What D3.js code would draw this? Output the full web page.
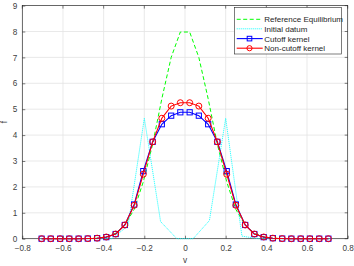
<!DOCTYPE html>
<html>
<head>
<meta charset="utf-8">
<script src="https://cdn.jsdelivr.net/npm/d3@7"></script>
<style>
  body { margin: 0; background: #fff; }
  svg { display: block; font-family: "Liberation Sans", Arial, sans-serif; }
</style>
</head>
<body>
<div id="chart"></div>
<script>
// velocity grid (cell centres)
var vGrid = [-0.705,-0.660,-0.614,-0.569,-0.523,-0.478,-0.432,-0.387,-0.341,-0.296,-0.250,-0.205,-0.159,-0.114,-0.068,-0.023,
              0.023, 0.068, 0.114, 0.159, 0.205, 0.250, 0.296, 0.341, 0.387, 0.432, 0.478, 0.523, 0.569, 0.614, 0.660, 0.705];

var fEquilibrium = [0,0,0,0,0,0.005,0.02,0.07,0.21,0.52,1.13,2.2,3.65,5.4,7.0,7.98,
                    7.98,7.0,5.4,3.65,2.2,1.13,0.52,0.21,0.07,0.02,0.005,0,0,0,0,0];
var fCutoff = [0,0,0,0,0,0.005,0.02,0.06,0.18,0.53,1.32,2.61,3.74,4.42,4.75,4.88,
               4.88,4.75,4.42,3.74,2.61,1.32,0.53,0.18,0.06,0.02,0.005,0,0,0,0,0];
var fNonCutoff = [0,0,0,0,0,0.005,0.02,0.066,0.18,0.53,1.29,2.49,3.74,4.65,5.12,5.25,
                  5.25,5.12,4.65,3.74,2.49,1.29,0.53,0.18,0.066,0.02,0.005,0,0,0,0,0];

// initial datum is on a coarser grid
var vInit = [-0.72,-0.64,-0.56,-0.48,-0.40,-0.36,-0.28,-0.20,-0.12,-0.04,0.04,0.12,0.20,0.28,0.36,0.40,0.48,0.56,0.64,0.72];
var fInit = [0,0,0,0,0,0,0.5,4.65,0.66,0,0,0.7,4.65,0.1,0,0,0,0,0,0];

var xTicks = [-0.8,-0.6,-0.4,-0.2,0,0.2,0.4,0.6,0.8];
var yTicks = [0,1,2,3,4,5,6,7,8,9];
var legendLabels = ["Reference Equilibrium","Initial datum","Cutoff kernel","Non-cutoff kernel"];

var width = 354, height = 266;
var padL = 22.3, padR = 347.7, padT = 5.6, padB = 238.7;

var svg = d3.select("#chart").append("svg")
    .attr("width", width)
    .attr("height", height);

var x = d3.scaleLinear().domain([-0.8, 0.8]).range([padL, padR]);
var y = d3.scaleLinear().domain([0, 9]).range([padB, padT]);

// grid lines
svg.append("g").selectAll("line")
    .data(xTicks.slice(1, -1))
    .enter().append("line")
    .attr("x1", d => x(d)).attr("x2", d => x(d))
    .attr("y1", padT).attr("y2", padB)
    .attr("stroke", "#e3e3e3").attr("stroke-width", 0.8);
svg.append("g").selectAll("line")
    .data(yTicks.slice(1, -1))
    .enter().append("line")
    .attr("y1", d => y(d)).attr("y2", d => y(d))
    .attr("x1", padL).attr("x2", padR)
    .attr("stroke", "#e3e3e3").attr("stroke-width", 0.8);

// axes (matlab style, ticks inside)
var xAxis = d3.axisBottom(x).tickValues(xTicks).tickSize(-3).tickPadding(6.5)
    .tickFormat(d => d === 0 ? "0" : d3.format(".1f")(d));
var yAxis = d3.axisLeft(y).tickValues(yTicks).tickSize(-3).tickPadding(5);

var gx = svg.append("g").attr("transform", "translate(0," + padB + ")").call(xAxis);
var gy = svg.append("g").attr("transform", "translate(" + padL + ",0)").call(yAxis);
[gx, gy].forEach(function(g) {
    g.select(".domain").remove();
    g.selectAll("line").attr("stroke", "#262626").attr("stroke-width", 0.6);
    g.selectAll("text").attr("fill", "#404040").style("font-size", "8.2px")
        .style("font-family", "'Liberation Sans', Arial, sans-serif");
});

// top/right ticks
svg.append("g").selectAll("line")
    .data(xTicks).enter().append("line")
    .attr("x1", d => x(d)).attr("x2", d => x(d))
    .attr("y1", padT).attr("y2", padT + 3)
    .attr("stroke", "#262626").attr("stroke-width", 0.6);
svg.append("g").selectAll("line")
    .data(yTicks).enter().append("line")
    .attr("y1", d => y(d)).attr("y2", d => y(d))
    .attr("x1", padR).attr("x2", padR - 3)
    .attr("stroke", "#262626").attr("stroke-width", 0.6);

// box
svg.append("rect")
    .attr("x", padL).attr("y", padT)
    .attr("width", padR - padL).attr("height", padB - padT)
    .attr("fill", "none").attr("stroke", "#262626").attr("stroke-width", 0.7);

// axis labels
svg.append("text").attr("x", x(0)).attr("y", 263)
    .attr("text-anchor", "middle").attr("fill", "#404040")
    .style("font-size", "8.3px").text("v");
svg.append("text")
    .attr("transform", "translate(7," + y(4.5) + ") rotate(-90)")
    .attr("text-anchor", "middle").attr("fill", "#404040")
    .style("font-size", "8.3px").text("f");

var line = d3.line().x(d => x(d[0])).y(d => y(d[1]));
var zip = (a, b) => a.map((d, i) => [d, b[i]]);

var plot = svg.append("g");

// reference equilibrium
plot.append("path").datum(zip(vGrid, fEquilibrium))
    .attr("d", line).attr("fill", "none")
    .attr("stroke", "#00ff00").attr("stroke-width", 1)
    .attr("stroke-dasharray", "4,2.5");

// initial datum
plot.append("path").datum(zip(vInit, fInit))
    .attr("d", line).attr("fill", "none")
    .attr("stroke", "#00ffff").attr("stroke-width", 0.8)
    .attr("stroke-dasharray", "1.2,0.8");

// cutoff kernel
var cutData = zip(vGrid, fCutoff);
plot.append("path").datum(cutData)
    .attr("d", line).attr("fill", "none")
    .attr("stroke", "#0000ff").attr("stroke-width", 1.1);
plot.append("g").selectAll("rect")
    .data(cutData).enter().append("rect")
    .attr("x", d => x(d[0]) - 2.6).attr("y", d => y(d[1]) - 2.6)
    .attr("width", 5.2).attr("height", 5.2)
    .attr("fill", "none").attr("stroke", "#0000ff").attr("stroke-width", 1);

// non-cutoff kernel
var nonData = zip(vGrid, fNonCutoff);
plot.append("path").datum(nonData)
    .attr("d", line).attr("fill", "none")
    .attr("stroke", "#ff0000").attr("stroke-width", 1.1);
plot.append("g").selectAll("circle")
    .data(nonData).enter().append("circle")
    .attr("cx", d => x(d[0])).attr("cy", d => y(d[1]))
    .attr("r", 3)
    .attr("fill", "none").attr("stroke", "#ff0000").attr("stroke-width", 1);

// legend
var lg = svg.append("g");
lg.append("rect")
    .attr("x", 234.3).attr("y", 7.3).attr("width", 107).attr("height", 46.7)
    .attr("fill", "#fff").attr("stroke", "#262626").attr("stroke-width", 0.6);
var legendY = [19.3, 28.8, 38.6, 48.2];
var styles = [
    {c: "#00ff00", dash: "4,2.5", w: 1, m: null},
    {c: "#00ffff", dash: "1.2,0.8", w: 0.8, m: null},
    {c: "#0000ff", dash: null, w: 1.1, m: "square"},
    {c: "#ff0000", dash: null, w: 1.1, m: "circle"}
];
legendLabels.forEach(function(lab, i) {
    var s = styles[i], ly = legendY[i];
    lg.append("line")
        .attr("x1", 236.7).attr("x2", 262.7).attr("y1", ly).attr("y2", ly)
        .attr("stroke", s.c).attr("stroke-width", s.w)
        .attr("stroke-dasharray", s.dash);
    if (s.m === "square") {
        lg.append("rect").attr("x", 249.5 - 2.3).attr("y", ly - 2.3)
            .attr("width", 4.6).attr("height", 4.6)
            .attr("fill", "none").attr("stroke", s.c).attr("stroke-width", 1);
    } else if (s.m === "circle") {
        lg.append("circle").attr("cx", 249.5).attr("cy", ly).attr("r", 2.6)
            .attr("fill", "none").attr("stroke", s.c).attr("stroke-width", 1);
    }
    lg.append("text").attr("x", 264.3).attr("y", ly + 2.9)
        .attr("fill", "#262626").style("font-size", "8px").text(lab);
});
</script>
</body>
</html>
